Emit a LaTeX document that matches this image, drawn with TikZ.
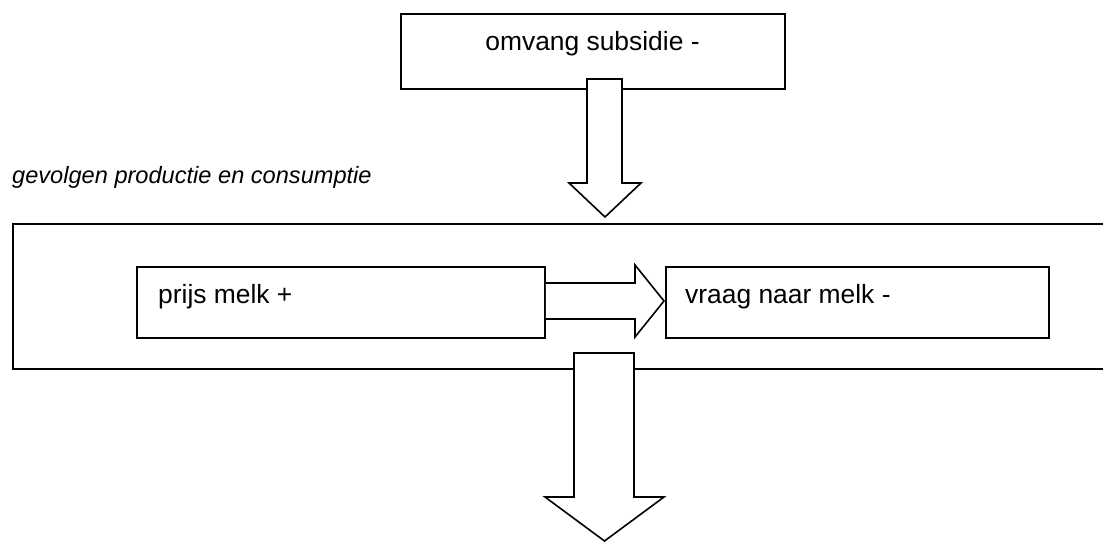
\documentclass[tikz,border=0pt]{standalone}
\usepackage{fontspec}
\setmainfont{Liberation Sans}
\usetikzlibrary{calc}

% downward block arrow: start, tip, half shaft width, half head width, head length
\newcommand{\blockdown}[5]{%
  \draw[blockarrow] let \p1=(#1), \p2=(#2) in
    (\x1-#3pt,\y1) -- (\x1+#3pt,\y1) -- (\x1+#3pt,\y2+#5pt) -- (\x2+#4pt,\y2+#5pt)
    -- (\x2,\y2) -- (\x2-#4pt,\y2+#5pt) -- (\x1-#3pt,\y2+#5pt) -- cycle;}

% rightward block arrow (open at its tail)
\newcommand{\blockright}[5]{%
  \draw[blockarrow] let \p1=(#1), \p2=(#2) in
    (\x1,\y1+#3pt) -- (\x2-#5pt,\y1+#3pt) -- (\x2-#5pt,\y2+#4pt) -- (\x2,\y2)
    -- (\x2-#5pt,\y2-#4pt) -- (\x2-#5pt,\y1-#3pt) -- (\x1,\y1-#3pt);}

\begin{document}
\begin{tikzpicture}[x=1pt,y=-1pt,
  box/.style={draw,line width=1.6pt,fill=white,inner sep=0pt},
  blockarrow/.style={draw,line width=1.6pt,fill=white,line join=miter},
  boxtext/.style={inner sep=0pt,font=\fontsize{26.4}{30}\selectfont},
  heading/.style={inner sep=0pt,anchor=base west,font=\fontsize{23.6}{28}\selectfont\itshape}]
\useasboundingbox (0,0) rectangle (1103,542);
\fill[white] (0,0) rectangle (1103,542);
\clip (0,0) rectangle (1103,542);

% top box
\node[box,minimum width=384pt,minimum height=75pt] (subsidie) at (593,51.5) {};
\node[boxtext,anchor=base] (subsidietext) at (592.5,50) {omvang subsidie -};

% heading of the frame
\node[heading] (kop) at (12,183) {gevolgen productie en consumptie};

% large frame, running off the right edge
\node[box,minimum width=1110pt,minimum height=145pt,anchor=north west] (gevolgen) at (12,223) {};

% inner boxes
\node[box,minimum width=408pt,minimum height=71pt] (prijs) at (341,302.5) {};
\node[boxtext,anchor=base west] (prijstext) at (158,303) {prijs melk +};
\node[box,minimum width=383pt,minimum height=71pt] (vraag) at (857.5,302.5) {};
\node[boxtext,anchor=base west] (vraagtext) at (685,303) {vraag naar melk -};

% arrow end points
\coordinate (a1start) at (604.5,79);
\coordinate (a1tip) at (605,217);
\coordinate (a2start) at (prijs.east |- 0,301);
\coordinate (a2tip) at (664,301);
\coordinate (a3start) at (604,353);
\coordinate (a3tip) at (604.5,541);

% block arrows
\blockdown{a1start}{a1tip}{17.5}{36}{34}
\blockright{a2start}{a2tip}{18}{36}{29}
\blockdown{a3start}{a3tip}{30}{59.5}{44}
\end{tikzpicture}
\end{document}
